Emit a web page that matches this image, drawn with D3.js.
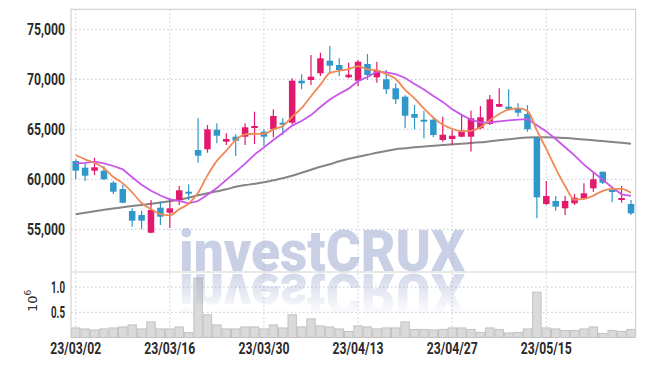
<!DOCTYPE html>
<html>
<head>
<meta charset="utf-8">
<script src="https://cdn.jsdelivr.net/npm/d3@7"></script>
<style>
body { margin: 0; background: #fff; }
svg { display: block; }
.tick text { font-family: Roboto, "DejaVu Sans", sans-serif; font-weight: 700; fill: #2a2a2a; }
</style>
</head>
<body>
<div id="vis"></div>
<script>
// trading days (yy/mm/dd)
var dates = ['23/03/02','23/03/03','23/03/06','23/03/07','23/03/08','23/03/09','23/03/10','23/03/13','23/03/14','23/03/15',
    '23/03/16','23/03/17','23/03/20','23/03/21','23/03/22','23/03/23','23/03/24','23/03/27','23/03/28','23/03/29',
    '23/03/30','23/03/31','23/04/03','23/04/04','23/04/05','23/04/06','23/04/07','23/04/10','23/04/11','23/04/12',
    '23/04/13','23/04/14','23/04/17','23/04/18','23/04/19','23/04/20','23/04/21','23/04/24','23/04/25','23/04/26',
    '23/04/27','23/04/28','23/05/02','23/05/03','23/05/04','23/05/08','23/05/09','23/05/10','23/05/11','23/05/12',
    '23/05/15','23/05/16','23/05/17','23/05/18','23/05/19','23/05/22','23/05/23','23/05/24','23/05/25','23/05/26'];
var tickDates = ['23/03/02','23/03/16','23/03/30','23/04/13','23/04/27','23/05/15'];
var priceTicks = [55000, 60000, 65000, 70000, 75000];
var volumeTicks = [500000, 1000000];

var opens = [61830,61160,60860,60860,59660,59030,56830,56430,54660,57160,
    56660,57930,58760,62930,63000,64960,63760,64260,64260,65130,
    64760,65000,65660,65660,69860,69930,70600,71860,71430,70200,
    69860,71530,70200,70000,69100,68260,66530,65960,65960,63930,
    64030,64260,64260,65100,65530,67260,67260,67030,66530,64190,
    57530,57830,57100,57600,58100,59100,60760,58930,57930,57530];
var highs = [62000,61600,62160,61330,59830,59430,57100,56860,57930,57760,
    58100,59330,59500,66100,65430,65600,64600,64500,65600,66760,
    65000,67000,66100,70100,70500,72430,72660,73330,72100,71660,
    71930,72530,71760,70930,69600,68400,67430,66860,66260,66260,
    64930,66430,66860,67330,68430,69100,69000,67600,67430,64190,
    59830,58330,58330,58530,59600,60760,60760,59100,59330,57930];
var lows = [60030,59830,60430,59930,58530,57600,55260,55000,54600,55430,
    55130,57430,57930,61660,62660,63600,63430,62330,63430,63530,
    63330,64200,64430,65500,69000,69430,70330,70600,70330,70100,
    69330,69930,69660,68530,67530,65100,65000,64100,64200,63760,
    63430,64200,62790,65000,65430,67200,66900,66260,64760,56100,
    57430,56860,56430,57430,58000,58760,59530,57700,57660,56430];
var closes = [60860,60360,61200,60000,58760,57660,55860,55860,56930,56260,
    57100,58900,58600,62360,65000,64360,64030,63860,65200,65330,
    64260,66330,65500,69860,69600,70260,72100,71360,70930,70460,
    71760,70430,70930,69000,68000,66360,66160,65860,64430,64460,
    64360,64860,66100,66200,68000,67530,67030,66660,65000,58200,
    58330,57260,57830,58160,58600,60000,59660,58830,58130,56600];
var volumes = [190000,170000,150000,170000,190000,210000,250000,170000,310000,170000,
    170000,210000,100000,1180000,450000,250000,170000,170000,210000,210000,
    170000,250000,190000,450000,210000,370000,230000,210000,170000,120000,
    230000,210000,170000,190000,190000,310000,160000,160000,150000,160000,
    190000,190000,160000,100000,190000,160000,90000,100000,170000,900000,
    190000,170000,140000,140000,170000,210000,80000,140000,120000,160000];

// moving averages as drawn (5, 10 and 60 days)
var ma5 = [62430,62000,61650,61100,60236,59596,58696,57628,57014,56514,
    56402,57010,57558,58644,60392,61844,62870,63922,64490,64556,
    64536,64996,65324,66256,67110,68310,69464,70636,70850,71022,
    71322,70988,70902,70516,70024,68944,68090,67076,66162,65454,
    65054,64794,64842,65196,65904,66538,66972,67084,66844,64884,
    63044,61090,59324,57956,58036,58370,58850,59050,59044,58644];
var ma10 = [61600,61650,61760,61600,61330,61000,60200,59450,58850,58375,
    57999,57853,57593,57829,58453,59123,59940,60740,61567,62474,
    63190,63933,64623,65373,65833,66423,67230,67980,68553,69066,
    69816,70226,70769,70683,70523,70133,69539,68989,68339,67739,
    66999,66442,65959,65679,65679,65796,65883,65963,66020,65394,
    64791,64031,63204,62400,61460,60707,59970,59187,58500,58340];
var ma60 = [56500,56650,56800,56950,57080,57200,57320,57430,57550,57680,
    57800,57950,58150,58400,58600,58800,59000,59250,59420,59550,
    59700,59900,60100,60350,60650,60950,61250,61500,61800,62050,
    62250,62450,62650,62830,63000,63100,63200,63280,63350,63420,
    63500,63550,63620,63700,63800,63900,64000,64100,64170,64200,
    64200,64170,64120,64060,63980,63900,63820,63740,63650,63550];

var upColor = '#e2196e';
var downColor = '#2f97c9';
var gridColor = '#c4c6d8';
var borderColor = '#d2d2d2';

window.onload = function()
{
    var width = 645, height = 366;
    var left = 71, right = 635.7, top = 9.3, mid = 272, bottom = 337.5;

    var svg = d3.select('#vis').append('svg')
        .attr('width', width)
        .attr('height', height);

    var x = d3.scaleBand().domain(dates).range([left, right]).padding(0);
    var cx = function(d) { return x(d) + x.bandwidth() / 2; };
    var y = d3.scaleLinear().domain([50730, 77000]).range([mid, top]);
    var yv = d3.scaleLinear().domain([0, 1300000]).range([bottom, mid]);

    var candles = dates.map(function(d, i) {
        return { date: d, o: opens[i], h: highs[i], l: lows[i], c: closes[i], v: volumes[i] };
    });

    // grid
    var grid = svg.append('g').attr('class', 'grid')
        .attr('stroke', gridColor).attr('stroke-dasharray', '1.5,2.5');
    grid.selectAll('.gy').data(priceTicks).enter().append('line')
        .attr('x1', left).attr('x2', right)
        .attr('y1', function(d) { return y(d); }).attr('y2', function(d) { return y(d); });
    grid.selectAll('.gv').data(volumeTicks).enter().append('line')
        .attr('x1', left).attr('x2', right)
        .attr('y1', function(d) { return yv(d); }).attr('y2', function(d) { return yv(d); });
    grid.selectAll('.gx').data(tickDates).enter().append('line')
        .attr('y1', top).attr('y2', bottom)
        .attr('x1', cx).attr('x2', cx);

    // volume bars
    svg.append('g').selectAll('rect').data(candles).enter().append('rect')
        .attr('x', function(d) { return x(d.date) + 0.5; })
        .attr('width', x.bandwidth() - 1)
        .attr('y', function(d) { return yv(d.v); })
        .attr('height', function(d) { return bottom - yv(d.v); })
        .attr('fill', '#dadada')
        .attr('stroke', '#c2c2c2')
        .attr('stroke-width', 1);

    // watermark with reflection
    var defs = svg.append('defs');
    var grad = defs.append('linearGradient').attr('id', 'fade')
        .attr('gradientUnits', 'userSpaceOnUse')
        .attr('x1', 0).attr('x2', 0)
        .attr('y1', mid).attr('y2', mid + 44);
    grad.append('stop').attr('offset', 0).attr('stop-color', '#fff').attr('stop-opacity', 0.85);
    grad.append('stop').attr('offset', 1).attr('stop-color', '#fff').attr('stop-opacity', 0);
    defs.append('mask').attr('id', 'fadeMask')
        .append('rect').attr('x', 0).attr('y', mid).attr('width', width).attr('height', 60)
        .attr('fill', 'url(#fade)');

    var mark = function(g)
    {
        g.append('text')
            .attr('x', 179).attr('y', mid - 1)
            .attr('textLength', 286).attr('lengthAdjust', 'spacingAndGlyphs')
            .style('font-family', 'Roboto, "DejaVu Sans", sans-serif')
            .style('font-weight', 900)
            .style('font-size', '57px')
            .attr('fill', '#8494c4')
            .attr('fill-opacity', 0.44)
            .text('investCRUX');
    };
    mark(svg.append('g'));
    svg.append('g').attr('mask', 'url(#fadeMask)')
        .append('g').attr('transform', 'translate(0,' + (2 * mid + 1) + ') scale(1,-1)')
        .call(mark);

    // borders
    var border = svg.append('g').attr('stroke', borderColor).attr('stroke-width', 1.2).attr('fill', 'none');
    border.append('path').attr('d', 'M' + left + ',' + bottom + 'V' + top + 'H' + right + 'V' + bottom);
    border.append('line').attr('x1', left).attr('x2', right).attr('y1', mid).attr('y2', mid);

    // moving averages
    var lineOf = function(vals, curve)
    {
        return d3.line()
            .x(function(d, i) { return cx(dates[i]); })
            .y(function(d) { return y(d); })
            .curve(curve)(vals);
    };
    svg.append('path').attr('d', lineOf(ma60, d3.curveMonotoneX))
        .attr('fill', 'none').attr('stroke', '#858585').attr('stroke-width', 2);

    // candles
    var bodyW = 6.5;
    var cg = svg.append('g').selectAll('g').data(candles).enter().append('g')
        .attr('fill', function(d) { return d.c >= d.o ? upColor : downColor; })
        .attr('stroke', function(d) { return d.c >= d.o ? upColor : downColor; });
    cg.append('line')
        .attr('x1', function(d) { return cx(d.date); })
        .attr('x2', function(d) { return cx(d.date); })
        .attr('y1', function(d) { return y(d.h); })
        .attr('y2', function(d) { return y(d.l); })
        .attr('stroke-width', 1.2);
    cg.append('rect')
        .attr('x', function(d) { return cx(d.date) - bodyW / 2; })
        .attr('width', bodyW)
        .attr('y', function(d) { return y(Math.max(d.o, d.c)); })
        .attr('height', function(d) { return Math.max(2, Math.abs(y(d.o) - y(d.c))); })
        .attr('stroke', 'none');

    svg.append('path').attr('d', lineOf(ma10, d3.curveLinear))
        .attr('fill', 'none').attr('stroke', '#c955ea').attr('stroke-width', 1.8);
    svg.append('path').attr('d', lineOf(ma5, d3.curveMonotoneX))
        .attr('fill', 'none').attr('stroke', '#ef8a55').attr('stroke-width', 1.8);

    // axes (narrow look: squeeze the labels)
    var squeeze = function(sel, w)
    {
        sel.selectAll('text')
            .style('font-size', '16px')
            .attr('textLength', w)
            .attr('lengthAdjust', 'spacingAndGlyphs');
    };

    var yAxis = svg.append('g')
        .attr('transform', 'translate(' + left + ',0)')
        .call(d3.axisLeft(y).tickValues(priceTicks).tickFormat(d3.format(',')).tickSize(0).tickPadding(6));
    yAxis.select('.domain').remove();
    squeeze(yAxis, 38);

    var vAxis = svg.append('g')
        .attr('transform', 'translate(' + left + ',0)')
        .call(d3.axisLeft(yv).tickValues(volumeTicks).tickFormat(function(d) { return (d / 1e6).toFixed(1); })
            .tickSize(0).tickPadding(6));
    vAxis.select('.domain').remove();
    squeeze(vAxis, 14);

    var xAxis = svg.append('g')
        .attr('transform', 'translate(0,' + bottom + ')')
        .call(d3.axisBottom(x).tickValues(tickDates).tickSize(0).tickPadding(5));
    xAxis.select('.domain').remove();
    squeeze(xAxis, 51);

    // volume unit label
    var unit = svg.append('text')
        .attr('transform', 'translate(37,312) rotate(-90)')
        .style('font-family', '"DejaVu Sans", sans-serif')
        .style('font-size', '13px')
        .attr('fill', '#333');
    unit.append('tspan').text('10');
    unit.append('tspan').attr('dy', -6).style('font-size', '9px').text('6');
};
</script>
</body>
</html>
